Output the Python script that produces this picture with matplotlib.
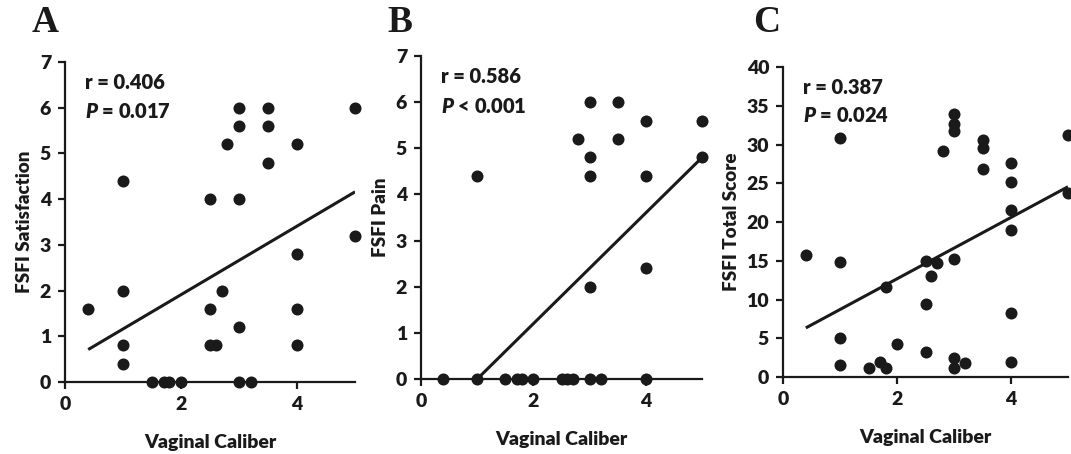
import numpy as np
import matplotlib
matplotlib.use("Agg")
import matplotlib.pyplot as plt

plt.rcParams['font.family'] = ['Lato', 'DejaVu Sans']
plt.rcParams['font.weight'] = 'heavy'
plt.rcParams['axes.labelweight'] = 'heavy'
plt.rcParams['mathtext.fontset'] = 'custom'
plt.rcParams['mathtext.it'] = 'Lato:italic:heavy'
plt.rcParams['mathtext.rm'] = 'Lato:heavy'

INK = '#1a1a1a'
W = 'heavy'

# panel A: FSFI satisfaction
sat_x = [0.4, 1, 1, 1, 1, 1.5, 1.7, 1.8, 2.0, 2.5, 2.5, 2.5, 2.6, 2.7, 2.8,
         3, 3, 3, 3, 3, 3.2, 3.5, 3.5, 3.5, 4, 4, 4, 4, 5, 5]
sat_y = [1.6, 4.4, 2.0, 0.8, 0.4, 0, 0, 0, 0, 4.0, 1.6, 0.8, 0.8, 2.0, 5.2,
         6.0, 5.6, 4.0, 1.2, 0, 0, 6.0, 5.6, 4.8, 5.2, 2.8, 1.6, 0.8, 6.0, 3.2]
sat_fit = (0.75, 0.41)

# panel B: FSFI pain
pain_x = [0.4, 1, 1, 1.5, 1.7, 1.8, 2.0, 2.5, 2.6, 2.7, 2.8, 3, 3, 3, 3, 3,
          3.2, 3.5, 3.5, 4, 4, 4, 4, 5, 5]
pain_y = [0, 0, 4.4, 0, 0, 0, 0, 0, 0, 0, 5.2, 6.0, 4.8, 4.4, 2.0, 0,
          0, 6.0, 5.2, 5.6, 4.4, 2.4, 0, 5.6, 4.8]
pain_fit = (1.2, -1.2)

# panel C: FSFI total score
tot_x = [0.4, 1, 1, 1, 1, 1.5, 1.7, 1.8, 1.8, 2.0, 2.5, 2.5, 2.5, 2.6, 2.7,
         2.8, 3, 3, 3, 3, 3, 3, 3.2, 3.5, 3.5, 3.5, 4, 4, 4, 4, 4, 4, 5, 5]
tot_y = [15.7, 30.9, 14.9, 5.0, 1.6, 1.2, 1.9, 1.2, 11.6, 4.2, 3.2, 9.4, 15.0,
         13.0, 14.7, 29.1, 33.9, 32.6, 31.8, 15.2, 2.4, 1.2, 1.8, 30.6, 29.6,
         26.8, 27.6, 25.2, 21.5, 19.0, 8.2, 2.0, 31.2, 23.7]
tot_fit = (3.96, 4.75)

panels = [
    dict(letter='A', x=sat_x, y=sat_y, fit=sat_fit, ylabel='FSFI Satisfaction',
         ylim=7, ystep=1, r='r = 0.406', p='$\\mathit{P}$ = 0.017',
         rect=[0.0607, 0.1586, 0.2708, 0.7048], lx=45),
    dict(letter='B', x=pain_x, y=pain_y, fit=pain_fit, ylabel='FSFI Pain',
         ylim=7, ystep=1, r='r = 0.586', p='$\\mathit{P}$ < 0.001',
         rect=[0.3931, 0.1652, 0.2624, 0.7115], lx=400),
    dict(letter='C', x=tot_x, y=tot_y, fit=tot_fit, ylabel='FSFI Total Score',
         ylim=40, ystep=5, r='r = 0.387', p='$\\mathit{P}$ = 0.024',
         rect=[0.7311, 0.1696, 0.2661, 0.6828], lx=767),
]

fig = plt.figure(figsize=(10.71, 4.54), dpi=100)

for pn in panels:
    ax = fig.add_axes(pn['rect'])
    ax.scatter(pn['x'], pn['y'], s=75, color=INK, zorder=3, clip_on=False,
               linewidths=0)
    xs = np.array([0.4, 5.0])
    m, b = pn['fit']
    ax.plot(xs, m * xs + b, color=INK, lw=2.2, solid_capstyle='butt')
    ax.set_xlim(0, 5)
    ax.set_ylim(0, pn['ylim'])
    ax.set_xticks([0, 2, 4])
    ax.set_yticks(np.arange(0, pn['ylim'] + 0.1, pn['ystep']))
    for s in ['top', 'right']:
        ax.spines[s].set_visible(False)
    for s in ['left', 'bottom']:
        ax.spines[s].set_linewidth(1.6)
        ax.spines[s].set_color(INK)
    ax.tick_params(direction='out', length=5, width=1.6, color=INK,
                   labelsize=14, labelcolor=INK, pad=5)
    for lab in ax.get_xticklabels() + ax.get_yticklabels():
        lab.set_fontweight(W)
    ax.set_xlabel('Vaginal Caliber', fontsize=14, color=INK, labelpad=15,
                  fontweight=W)
    ax.set_ylabel(pn['ylabel'], fontsize=13.5, color=INK, labelpad=5,
                  fontweight=W)
    ax.text(0.07, 0.935, pn['r'], transform=ax.transAxes, fontsize=14.5,
            color=INK, va='center', fontweight=W)
    ax.text(0.07, 0.845, pn['p'], transform=ax.transAxes, fontsize=14.5,
            color=INK, va='center', fontweight=W)
    fig.text(pn['lx'] / 1071, 1 - 23 / 454, pn['letter'], ha='center',
             va='center', fontsize=27, fontweight='bold', color=INK,
             family=['Liberation Serif', 'DejaVu Serif'])

fig.savefig('out.png', dpi=100)
